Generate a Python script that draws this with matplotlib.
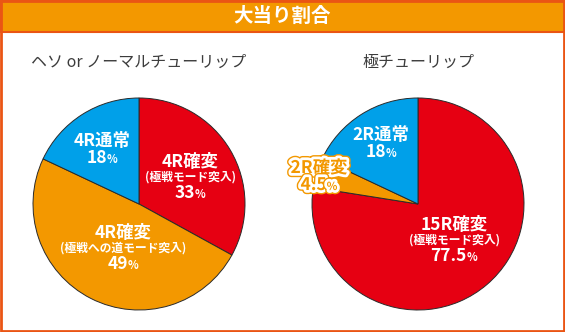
import matplotlib
matplotlib.use("Agg")
import matplotlib.pyplot as plt
import matplotlib.patheffects as pe
from matplotlib.patches import Rectangle
from matplotlib.offsetbox import TextArea, HPacker, AnnotationBbox

plt.rcParams['font.family'] = ['Noto Sans CJK JP', 'DejaVu Sans']

W, H = 565, 332

RED = '#e60012'
ORANGE = '#f39800'
BLUE = '#00a0e9'
BORDER = '#ea5514'

header = '大当り割合'
titles = ['ヘソ or ノーマルチューリップ', '極チューリップ']

# clockwise from 12 o'clock
left_names = ['4R確変', '4R確変', '4R通常']
left_notes = ['(極戦モード突入)', '(極戦への道モード突入)', '']
left_values = [33, 49, 18]
left_pct = ['33', '49', '18']

right_names = ['15R確変', '2R確変', '2R通常']
right_notes = ['(極戦モード突入)', '', '']
right_values = [77.5, 4.5, 18]
right_pct = ['77.5', '4.5', '18']

colors = [RED, ORANGE, BLUE]

# layout (pixels from top-left): label x, then y of each line
centers = [(139, 204), (418, 204)]
radius = 106
left_pos = [(190, [162, 177, 193]), (123, [233, 248, 264]), (102, [141, 158])]
right_pos = [(454, [225, 240, 256]), (319, [168, 185]), (381, [135, 152])]

fig = plt.figure(figsize=(W / 100, H / 100), dpi=100)
ax = fig.add_axes([0, 0, 1, 1])


def Y(y):
    return H - y


def label(x, ys, name, note, pct, outlined=False):
    tp = dict(color='white', fontweight='bold', fontsize=12.5)
    np_ = dict(color='white', fontweight='bold', fontsize=8.5)
    sp = dict(color='white', fontweight='bold', fontsize=8)
    if outlined:
        fx = [pe.Stroke(linewidth=6, foreground=ORANGE),
              pe.Stroke(linewidth=4, foreground='white'), pe.Normal()]
        tp = dict(tp, color=ORANGE, path_effects=fx)
        sp = dict(sp, color=ORANGE, path_effects=fx)
    ax.text(x, Y(ys[0]), name, ha='center', va='center', **tp)
    if note:
        ax.text(x, Y(ys[1]), note, ha='center', va='center', **np_)
    row = HPacker(children=[TextArea(pct, textprops=tp),
                            TextArea('%', textprops=sp)],
                  align='baseline', pad=0, sep=0)
    ab = AnnotationBbox(row, (x, Y(ys[-1])), xycoords='data', frameon=False,
                        box_alignment=(0.5, 0.5), pad=0)
    ax.add_artist(ab)


for (cx, cy), vals in zip(centers, [left_values, right_values]):
    ax.pie(vals, colors=colors, startangle=90, counterclock=False,
           center=(cx, Y(cy)), radius=radius,
           wedgeprops=dict(edgecolor='#2a2a2a', linewidth=0.7))

for i in range(3):
    label(*left_pos[i], left_names[i], left_notes[i], left_pct[i])
    label(*right_pos[i], right_names[i], right_notes[i], right_pct[i],
          outlined=(i == 1))

for (cx, cy), t in zip(centers, titles):
    ax.text(cx, Y(62), t, ha='center', va='center', fontsize=11.5,
            color='#3c3c3c')

ax.add_patch(Rectangle((0, Y(32)), W, 32, facecolor=ORANGE,
                       edgecolor=BORDER, linewidth=1.5, zorder=5))
ax.text(W / 2, Y(16), header, ha='center', va='center', fontsize=14,
        fontweight='bold', color='white', zorder=6)
ax.add_patch(Rectangle((0.8, 0.8), W - 1.6, H - 1.6, facecolor='none',
                       edgecolor=BORDER, linewidth=2, zorder=7))

ax.set_xlim(0, W)
ax.set_ylim(0, H)
ax.set_aspect('equal')
ax.axis('off')

fig.savefig('out.png', dpi=100)
